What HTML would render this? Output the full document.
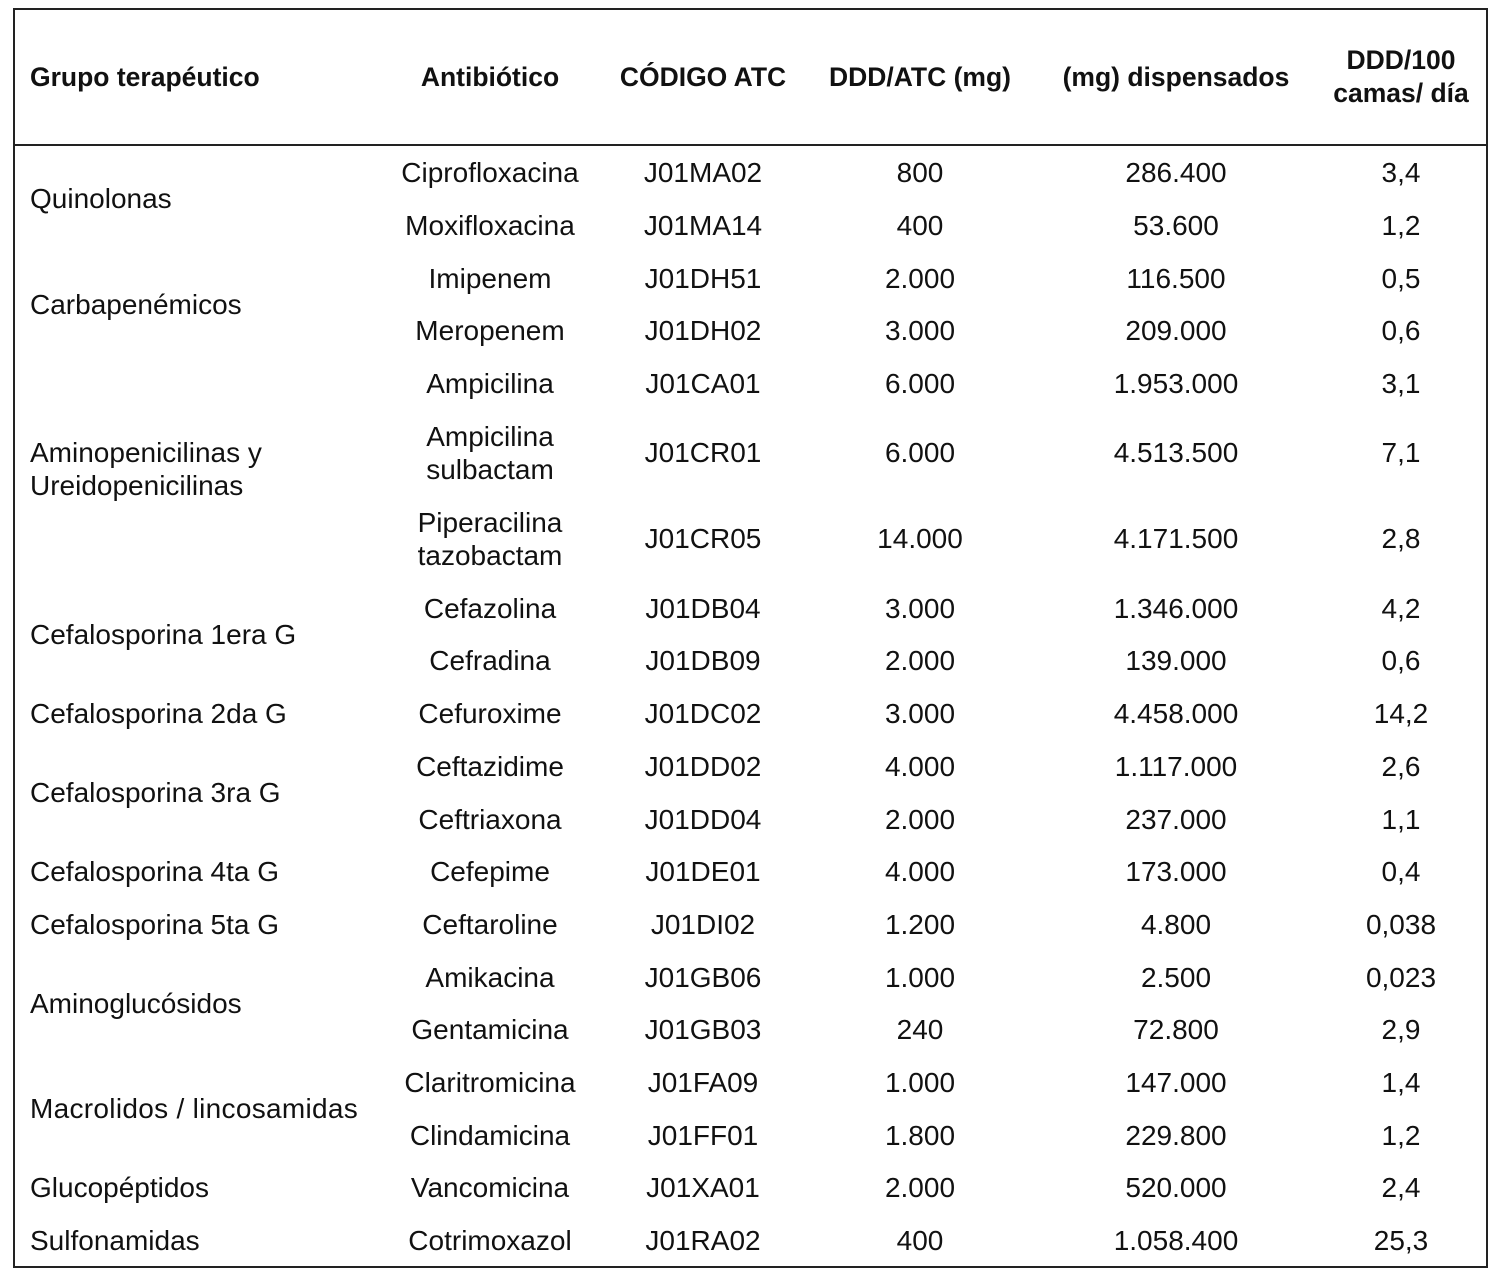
<!DOCTYPE html>
<html><head><meta charset="utf-8">
<style>
html,body{margin:0;padding:0;background:#fff;}
body{width:1500px;height:1275px;position:relative;overflow:hidden;font-family:"Liberation Sans",Arial,sans-serif;color:#111;}
.box{position:absolute;left:13px;top:8px;width:1471px;height:1256px;border:2px solid #222;}
.hl{position:absolute;left:13px;top:144px;width:1473px;height:2px;background:#222;}
.c{position:absolute;width:400px;text-align:center;font-size:28px;line-height:33px;white-space:nowrap;}
.l{position:absolute;left:30px;font-size:28px;line-height:33px;white-space:nowrap;}
.h{font-weight:bold;font-size:26.5px;}
</style></head><body>
<div class="box"></div>
<div class="hl"></div>

<!-- header -->
<div class="l h" style="top:61px">Grupo terapéutico</div>
<div class="c h" style="left:290px;top:61px">Antibiótico</div>
<div class="c h" style="left:503px;top:61px">CÓDIGO ATC</div>
<div class="c h" style="left:720px;top:61px">DDD/ATC (mg)</div>
<div class="c h" style="left:976px;top:61px">(mg) dispensados</div>
<div class="c h" style="left:1201px;top:44px">DDD/100<br>camas/ día</div>

<!-- groups -->
<div class="l" style="top:182px">Quinolonas</div>
<div class="l" style="top:288px">Carbapenémicos</div>
<div class="l" style="top:436px">Aminopenicilinas y<br>Ureidopenicilinas</div>
<div class="l" style="top:618px">Cefalosporina 1era G</div>
<div class="l" style="top:697px">Cefalosporina 2da G</div>
<div class="l" style="top:776px">Cefalosporina 3ra G</div>
<div class="l" style="top:855px">Cefalosporina 4ta G</div>
<div class="l" style="top:908px">Cefalosporina 5ta G</div>
<div class="l" style="top:987px">Aminoglucósidos</div>
<div class="l" style="top:1092px;letter-spacing:0.3px">Macrolidos / lincosamidas</div>
<div class="l" style="top:1171px">Glucopéptidos</div>
<div class="l" style="top:1224px">Sulfonamidas</div>

<!-- rows -->
<div class="c" style="left:290px;top:156px">Ciprofloxacina</div>
<div class="c" style="left:503px;top:156px">J01MA02</div>
<div class="c" style="left:720px;top:156px">800</div>
<div class="c" style="left:976px;top:156px">286.400</div>
<div class="c" style="left:1201px;top:156px">3,4</div>

<div class="c" style="left:290px;top:209px">Moxifloxacina</div>
<div class="c" style="left:503px;top:209px">J01MA14</div>
<div class="c" style="left:720px;top:209px">400</div>
<div class="c" style="left:976px;top:209px">53.600</div>
<div class="c" style="left:1201px;top:209px">1,2</div>

<div class="c" style="left:290px;top:262px">Imipenem</div>
<div class="c" style="left:503px;top:262px">J01DH51</div>
<div class="c" style="left:720px;top:262px">2.000</div>
<div class="c" style="left:976px;top:262px">116.500</div>
<div class="c" style="left:1201px;top:262px">0,5</div>

<div class="c" style="left:290px;top:314px">Meropenem</div>
<div class="c" style="left:503px;top:314px">J01DH02</div>
<div class="c" style="left:720px;top:314px">3.000</div>
<div class="c" style="left:976px;top:314px">209.000</div>
<div class="c" style="left:1201px;top:314px">0,6</div>

<div class="c" style="left:290px;top:367px">Ampicilina</div>
<div class="c" style="left:503px;top:367px">J01CA01</div>
<div class="c" style="left:720px;top:367px">6.000</div>
<div class="c" style="left:976px;top:367px">1.953.000</div>
<div class="c" style="left:1201px;top:367px">3,1</div>

<div class="c" style="left:290px;top:420px">Ampicilina<br>sulbactam</div>
<div class="c" style="left:503px;top:436px">J01CR01</div>
<div class="c" style="left:720px;top:436px">6.000</div>
<div class="c" style="left:976px;top:436px">4.513.500</div>
<div class="c" style="left:1201px;top:436px">7,1</div>

<div class="c" style="left:290px;top:506px">Piperacilina<br>tazobactam</div>
<div class="c" style="left:503px;top:522px">J01CR05</div>
<div class="c" style="left:720px;top:522px">14.000</div>
<div class="c" style="left:976px;top:522px">4.171.500</div>
<div class="c" style="left:1201px;top:522px">2,8</div>

<div class="c" style="left:290px;top:592px">Cefazolina</div>
<div class="c" style="left:503px;top:592px">J01DB04</div>
<div class="c" style="left:720px;top:592px">3.000</div>
<div class="c" style="left:976px;top:592px">1.346.000</div>
<div class="c" style="left:1201px;top:592px">4,2</div>

<div class="c" style="left:290px;top:644px">Cefradina</div>
<div class="c" style="left:503px;top:644px">J01DB09</div>
<div class="c" style="left:720px;top:644px">2.000</div>
<div class="c" style="left:976px;top:644px">139.000</div>
<div class="c" style="left:1201px;top:644px">0,6</div>

<div class="c" style="left:290px;top:697px">Cefuroxime</div>
<div class="c" style="left:503px;top:697px">J01DC02</div>
<div class="c" style="left:720px;top:697px">3.000</div>
<div class="c" style="left:976px;top:697px">4.458.000</div>
<div class="c" style="left:1201px;top:697px">14,2</div>

<div class="c" style="left:290px;top:750px">Ceftazidime</div>
<div class="c" style="left:503px;top:750px">J01DD02</div>
<div class="c" style="left:720px;top:750px">4.000</div>
<div class="c" style="left:976px;top:750px">1.117.000</div>
<div class="c" style="left:1201px;top:750px">2,6</div>

<div class="c" style="left:290px;top:803px">Ceftriaxona</div>
<div class="c" style="left:503px;top:803px">J01DD04</div>
<div class="c" style="left:720px;top:803px">2.000</div>
<div class="c" style="left:976px;top:803px">237.000</div>
<div class="c" style="left:1201px;top:803px">1,1</div>

<div class="c" style="left:290px;top:855px">Cefepime</div>
<div class="c" style="left:503px;top:855px">J01DE01</div>
<div class="c" style="left:720px;top:855px">4.000</div>
<div class="c" style="left:976px;top:855px">173.000</div>
<div class="c" style="left:1201px;top:855px">0,4</div>

<div class="c" style="left:290px;top:908px">Ceftaroline</div>
<div class="c" style="left:503px;top:908px">J01DI02</div>
<div class="c" style="left:720px;top:908px">1.200</div>
<div class="c" style="left:976px;top:908px">4.800</div>
<div class="c" style="left:1201px;top:908px">0,038</div>

<div class="c" style="left:290px;top:961px">Amikacina</div>
<div class="c" style="left:503px;top:961px">J01GB06</div>
<div class="c" style="left:720px;top:961px">1.000</div>
<div class="c" style="left:976px;top:961px">2.500</div>
<div class="c" style="left:1201px;top:961px">0,023</div>

<div class="c" style="left:290px;top:1013px">Gentamicina</div>
<div class="c" style="left:503px;top:1013px">J01GB03</div>
<div class="c" style="left:720px;top:1013px">240</div>
<div class="c" style="left:976px;top:1013px">72.800</div>
<div class="c" style="left:1201px;top:1013px">2,9</div>

<div class="c" style="left:290px;top:1066px">Claritromicina</div>
<div class="c" style="left:503px;top:1066px">J01FA09</div>
<div class="c" style="left:720px;top:1066px">1.000</div>
<div class="c" style="left:976px;top:1066px">147.000</div>
<div class="c" style="left:1201px;top:1066px">1,4</div>

<div class="c" style="left:290px;top:1119px">Clindamicina</div>
<div class="c" style="left:503px;top:1119px">J01FF01</div>
<div class="c" style="left:720px;top:1119px">1.800</div>
<div class="c" style="left:976px;top:1119px">229.800</div>
<div class="c" style="left:1201px;top:1119px">1,2</div>

<div class="c" style="left:290px;top:1171px">Vancomicina</div>
<div class="c" style="left:503px;top:1171px">J01XA01</div>
<div class="c" style="left:720px;top:1171px">2.000</div>
<div class="c" style="left:976px;top:1171px">520.000</div>
<div class="c" style="left:1201px;top:1171px">2,4</div>

<div class="c" style="left:290px;top:1224px">Cotrimoxazol</div>
<div class="c" style="left:503px;top:1224px">J01RA02</div>
<div class="c" style="left:720px;top:1224px">400</div>
<div class="c" style="left:976px;top:1224px">1.058.400</div>
<div class="c" style="left:1201px;top:1224px">25,3</div>
</body></html>
